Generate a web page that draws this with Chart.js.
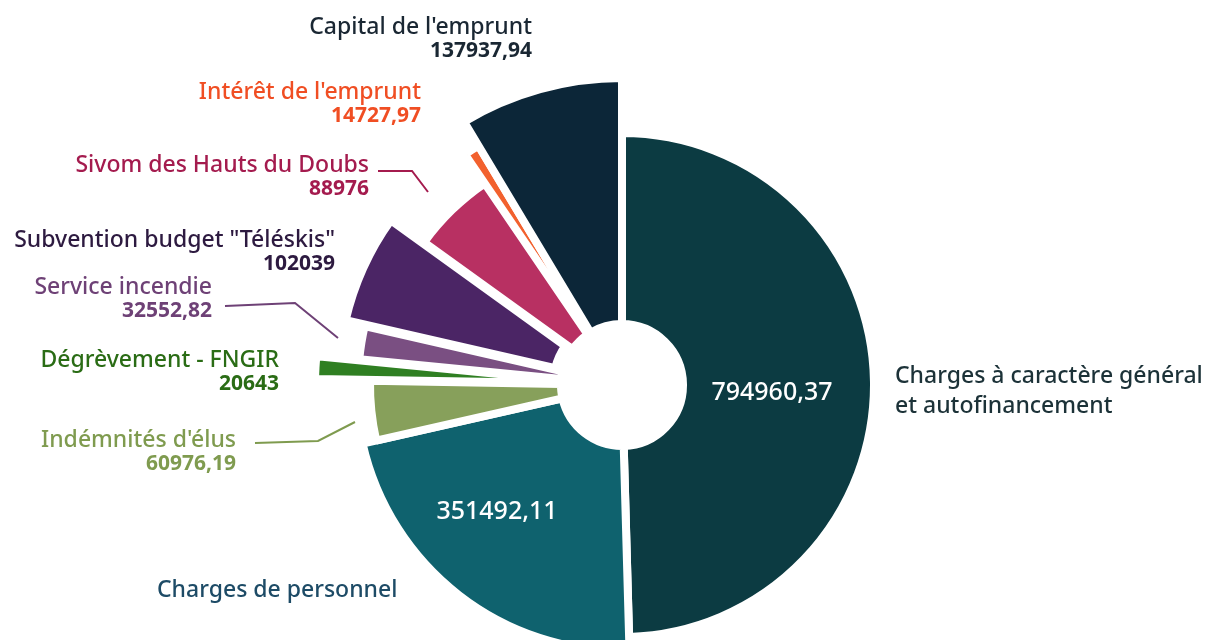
<!DOCTYPE html>
<html lang="fr">
<head>
<meta charset="utf-8">
<title>Répartition des dépenses</title>
<script src="https://cdn.jsdelivr.net/npm/chart.js@4.4.1/dist/chart.umd.min.js"></script>
<style>
  html, body { margin: 0; background: #fff; }
</style>
</head>
<body>
<canvas id="chart" width="1208" height="640"></canvas>
<script>
// data
const categories = [
  ['Charges à caractère général', 'et autofinancement'],
  'Charges de personnel',
  "Indémnités d'élus",
  'Dégrèvement - FNGIR',
  'Service incendie',
  'Subvention budget "Téléskis"',
  'Sivom des Hauts du Doubs',
  "Intérêt de l'emprunt",
  "Capital de l'emprunt"
];
const amounts = [794960.37, 351492.11, 60976.19, 20643, 32552.82, 102039, 88976, 14727.97, 137937.94];

// colours
const sliceColors = ['#0c3b42', '#0f626e', '#87a05b', '#2f7f22', '#7a4f82', '#4b2565', '#b83062', '#f2612e', '#0c2638'];
const textColors  = ['#1c3238', '#1d4b66', '#7f9b4f', '#2a6c15', '#6e4176', '#2d1a40', '#a41b4e', '#f04e23', '#1a2733'];

// per-slice shape: outer radius and outward shift, in px; white gap width
const sliceRadius = [252, 266, 252, 256, 264, 276, 244, 209, 307];
const sliceShift  = [0, 0, 0, 50, 0, 8, 0, 68, 0];
const gapWidth    = [8, 8, 8, 6, 8, 8, 8, 4, 8];

// label placement (name line middle, value drawn under it or inside the slice)
const labelLayout = [
  {x: 895, y: 376, align: 'left', inside: [772, 393]},
  {x: 157, y: 590, align: 'left', inside: [497, 512]},
  {x: 236, y: 440, align: 'right', line: [[255, 443], [318, 441], [355, 422]]},
  {x: 279, y: 360, align: 'right'},
  {x: 212, y: 287, align: 'right', line: [[225, 306], [295, 303], [338, 338]]},
  {x: 335, y: 240, align: 'right'},
  {x: 369, y: 165, align: 'right', line: [[378, 171], [412, 171], [428, 192]]},
  {x: 421, y: 92, align: 'right'},
  {x: 532, y: 27, align: 'right'}
];

const FONT = '"Noto Sans", "Open Sans", sans-serif';
const fmt = v => String(v).replace('.', ',');

const sliceShape = {
  id: 'sliceShape',
  afterDatasetsUpdate(chart) {
    chart.getDatasetMeta(0).data.forEach((arc, i) => {
      const mid = (arc.startAngle + arc.endAngle) / 2;
      arc.outerRadius = sliceRadius[i];
      arc.x += Math.cos(mid) * sliceShift[i];
      arc.y += Math.sin(mid) * sliceShift[i];
    });
  }
};

const sliceLabels = {
  id: 'sliceLabels',
  afterDraw(chart) {
    const {ctx} = chart;
    ctx.save();
    ctx.textBaseline = 'middle';
    labelLayout.forEach((lay, i) => {
      const lines = [].concat(categories[i]);
      ctx.fillStyle = textColors[i];
      ctx.textAlign = lay.align;
      ctx.font = '500 23px ' + FONT;
      lines.forEach((t, k) => ctx.fillText(t, lay.x, lay.y + k * 30));

      if (lay.inside) {
        ctx.fillStyle = '#fff';
        ctx.textAlign = 'center';
        ctx.font = '500 25px ' + FONT;
        ctx.fillText(fmt(amounts[i]), lay.inside[0], lay.inside[1]);
      } else {
        ctx.font = 'bold 21px ' + FONT;
        ctx.fillText(fmt(amounts[i]), lay.x, lay.y + 24);
      }

      if (lay.line) {
        ctx.strokeStyle = textColors[i];
        ctx.lineWidth = 2;
        ctx.beginPath();
        lay.line.forEach(([px, py], k) => k ? ctx.lineTo(px, py) : ctx.moveTo(px, py));
        ctx.stroke();
      }
    });
    ctx.restore();
  }
};

new Chart(document.getElementById('chart'), {
  type: 'doughnut',
  data: {
    labels: categories,
    datasets: [{
      data: amounts,
      backgroundColor: sliceColors,
      borderColor: '#fff',
      borderWidth: gapWidth
    }]
  },
  options: {
    responsive: false,
    animation: false,
    events: [],
    radius: 250,
    cutout: '24.4%',
    layout: {padding: {left: 36, right: 0, top: 130, bottom: 0}},
    plugins: {
      legend: {display: false},
      tooltip: {enabled: false}
    }
  },
  plugins: [sliceShape, sliceLabels]
});
</script>
</body>
</html>
